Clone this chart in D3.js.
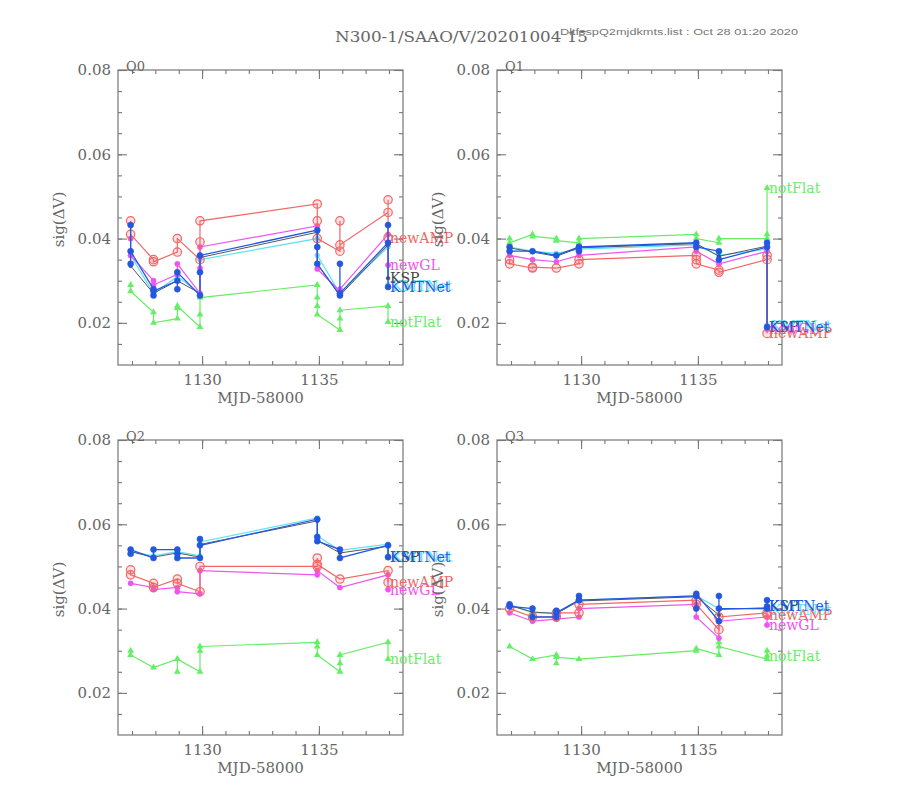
<!DOCTYPE html>
<html>
<head>
<meta charset="utf-8">
<script src="https://cdn.jsdelivr.net/npm/d3@7"></script>
<style>
  html, body { margin: 0; padding: 0; background: #fff; }
  svg { display: block; }
</style>
</head>
<body>
<svg id="chart" width="906" height="796"></svg>
<script>
// ---------------- DATA ----------------
const nights = [1126.94, 1127.92, 1128.94, 1129.91, 1134.93, 1135.90, 1137.96];
const panelNames = ["Q0", "Q1", "Q2", "Q3"];
const seriesNames = ["KMTNet", "KSP", "notFlat", "newGL", "newAMP", "KMTNet"]; // cyan, black, green, magenta, red, blue
const xTickLabels = [1130, 1135];
const yTickLabels = [0.02, 0.04, 0.06, 0.08];
const titleText = "N300-1/SAAO/V/20201004 15";
const fileText = "DltfsspQ2mjdkmts.list : Oct 28 01:20 2020";

// values per night (each inner list = exposures of that night, in time order)
// Q0
const q0Cyan    = [[0.040, 0.036], [0.027], [0.031], [0.027, 0.035], [0.040, 0.036], [0.027], [0.038, 0.0290]];
const q0KSP     = [[0.037, 0.0335], [0.027], [0.030], [0.027, 0.0355], [0.0415, 0.034], [0.0265], [0.0385, 0.0306]];
const q0NotFlat = [[0.029, 0.0275], [0.0225, 0.020], [0.021, 0.0235, 0.024], [0.019, 0.022, 0.026], [0.029, 0.026, 0.024, 0.022], [0.0183, 0.021, 0.023], [0.024, 0.0202]];
const q0NewGL   = [[0.040, 0.036], [0.030, 0.029], [0.0315, 0.034], [0.027, 0.033, 0.038], [0.043, 0.038, 0.0328], [0.0275, 0.028], [0.041, 0.0337]];
const q0NewAMP  = [[0.0442, 0.041], [0.035, 0.0345], [0.0368, 0.040], [0.035, 0.0392, 0.0442], [0.0482, 0.0442, 0.040], [0.037, 0.0442, 0.0385], [0.0462, 0.0492, 0.0402]];
const q0KMTNet  = [[0.0432, 0.034, 0.037], [0.028, 0.0265, 0.0275], [0.030, 0.028, 0.032], [0.0265, 0.032, 0.036], [0.042, 0.038, 0.034], [0.0265, 0.034, 0.027], [0.039, 0.0432, 0.0285]];
// Q1
const q1Cyan    = [[0.038], [0.037], [0.0365], [0.0375], [0.0385], [0.036], [0.0375, 0.0195]];
const q1KSP     = [[0.0378], [0.0368], [0.0358], [0.0378], [0.0388], [0.0358], [0.0382, 0.019]];
const q1NotFlat = [[0.040, 0.039], [0.041, 0.0405], [0.040, 0.0395], [0.039, 0.040], [0.041, 0.040], [0.039, 0.040], [0.040, 0.041, 0.052]];
const q1NewGL   = [[0.037, 0.036], [0.035], [0.0345], [0.036], [0.038, 0.037], [0.034], [0.037, 0.0185]];
const q1NewAMP  = [[0.035, 0.034], [0.033, 0.0332], [0.033], [0.034, 0.035], [0.036, 0.035, 0.034], [0.0325, 0.032], [0.035, 0.036, 0.0175]];
const q1KMTNet  = [[0.038, 0.037], [0.037], [0.036], [0.038, 0.037, 0.038], [0.039, 0.038], [0.037, 0.035], [0.038, 0.039, 0.019]];
// Q2
const q2Cyan    = [[0.0535], [0.0525], [0.0535], [0.0525, 0.0558], [0.0615, 0.0572], [0.0538], [0.0553, 0.0525]];
const q2KSP     = [[0.0535], [0.0522], [0.0532], [0.0522, 0.0552], [0.0608, 0.0562], [0.0532], [0.0548, 0.0522]];
const q2NotFlat = [[0.030, 0.029], [0.026], [0.028, 0.025, 0.028], [0.025, 0.030, 0.031], [0.032, 0.031, 0.029], [0.025, 0.027, 0.029], [0.032, 0.028]];
const q2NewGL   = [[0.046], [0.045, 0.0445], [0.045, 0.044], [0.0435, 0.049], [0.048, 0.049], [0.045], [0.048, 0.0445]];
const q2NewAMP  = [[0.0492, 0.048], [0.046, 0.045], [0.047, 0.046], [0.044, 0.050], [0.050, 0.052, 0.0505], [0.047], [0.049, 0.0462]];
const q2KMTNet  = [[0.053, 0.054], [0.052, 0.054], [0.054, 0.053, 0.052], [0.052, 0.0565, 0.055], [0.0612, 0.057, 0.056], [0.054, 0.052], [0.055, 0.0522]];
// Q3
const q3Cyan    = [[0.041], [0.039], [0.039], [0.042], [0.043], [0.040], [0.040, 0.0398]];
const q3KSP     = [[0.0407], [0.0392], [0.0388], [0.0418], [0.0428], [0.0385, 0.0398], [0.0402, 0.0405]];
const q3NotFlat = [[0.031], [0.028], [0.029, 0.027, 0.0285], [0.028], [0.030, 0.0305], [0.029, 0.032, 0.031], [0.028, 0.030, 0.0288]];
const q3NewGL   = [[0.039], [0.037], [0.0375], [0.038, 0.040], [0.041, 0.038], [0.033, 0.037], [0.038, 0.0361]];
const q3NewAMP  = [[0.040], [0.038], [0.038, 0.039], [0.039, 0.041], [0.042, 0.041], [0.035, 0.038], [0.039, 0.0385]];
const q3KMTNet  = [[0.041, 0.0405], [0.040, 0.038], [0.038, 0.0395, 0.039], [0.042, 0.043, 0.042], [0.043, 0.040, 0.0435], [0.037, 0.043, 0.040], [0.040, 0.042, 0.0405]];

const panelData = [
  [q0Cyan, q0KSP, q0NotFlat, q0NewGL, q0NewAMP, q0KMTNet],
  [q1Cyan, q1KSP, q1NotFlat, q1NewGL, q1NewAMP, q1KMTNet],
  [q2Cyan, q2KSP, q2NotFlat, q2NewGL, q2NewAMP, q2KMTNet],
  [q3Cyan, q3KSP, q3NotFlat, q3NewGL, q3NewAMP, q3KMTNet]
];

// ---------------- STYLE / LAYOUT ----------------
const seriesStyle = [
  { color: "#5fe3f2", marker: "dot", r: 2.4, width: 1.2, labelDx: 4, labelDy: 1 },
  { color: "#444444", marker: "dot", r: 1.8, width: 0.9, labelDx: 2, labelDy: 0 },
  { color: "#66ee66", marker: "tri", r: 2.6, width: 1.2, labelDx: 2, labelDy: 0 },
  { color: "#ee55ee", marker: "dot", r: 2.6, width: 1.2, labelDx: 2, labelDy: 0 },
  { color: "#f26666", marker: "ring", r: 4.2, width: 1.2, labelDx: 2, labelDy: 0 },
  { color: "#2457e0", marker: "dot", r: 3.0, width: 1.3, labelDx: 2, labelDy: 0 }
];
const panelPos = [[118, 70], [497, 70], [118, 440], [497, 440]];
const PW = 285, PH = 295;
const axisColor = "#777";
const textColor = "#666";
const serif = "'DejaVu Serif', 'Liberation Serif', serif";

const svg = d3.select("#chart");

const x = d3.scaleLinear().domain([1126.4, 1138.6]).range([0, PW]);
const y = d3.scaleLinear().domain([0.01, 0.08]).range([PH, 0]);

const xMinor = d3.range(1127, 1139, 1);
const yMinor = d3.range(0.015, 0.0801, 0.005).map(v => +v.toFixed(3));

// Title
svg.append("text")
  .attr("x", 335).attr("y", 42)
  .attr("font-family", serif).attr("font-size", 14)
  .attr("fill", textColor)
  .attr("textLength", 253).attr("lengthAdjust", "spacingAndGlyphs")
  .text(titleText);
svg.append("text")
  .attr("x", 560).attr("y", 35)
  .attr("font-family", "'Liberation Sans', Arial, sans-serif").attr("font-size", 8.5)
  .attr("fill", "#777")
  .attr("textLength", 238).attr("lengthAdjust", "spacingAndGlyphs")
  .text(fileText);

panelData.forEach((series, pi) => {
  const [px, py] = panelPos[pi];
  const g = svg.append("g").attr("transform", `translate(${px},${py})`);

  // frame
  g.append("rect").attr("x", 0).attr("y", 0).attr("width", PW).attr("height", PH)
    .attr("fill", "none").attr("stroke", axisColor).attr("stroke-width", 1.2);

  const styleAxis = sel => {
    sel.select(".domain").remove();
    sel.selectAll(".tick line").attr("stroke", axisColor).attr("stroke-width", 1.1);
    sel.selectAll(".tick text").attr("fill", textColor).attr("font-family", serif).attr("font-size", 15);
  };

  // bottom axis (major with labels, minor)
  g.append("g").attr("transform", `translate(0,${PH})`)
    .call(d3.axisBottom(x).tickValues(xMinor).tickSize(-4).tickFormat(""))
    .call(styleAxis);
  g.append("g").attr("transform", `translate(0,${PH})`)
    .call(d3.axisBottom(x).tickValues(xTickLabels).tickSize(-9).tickPadding(9).tickFormat(d3.format("d")))
    .call(styleAxis);
  // top axis
  g.append("g")
    .call(d3.axisTop(x).tickValues(xMinor).tickSize(-4).tickFormat(""))
    .call(styleAxis);
  g.append("g")
    .call(d3.axisTop(x).tickValues(xTickLabels).tickSize(-9).tickFormat(""))
    .call(styleAxis);
  // left axis
  g.append("g")
    .call(d3.axisLeft(y).tickValues(yMinor).tickSize(-4).tickFormat(""))
    .call(styleAxis);
  g.append("g")
    .call(d3.axisLeft(y).tickValues(yTickLabels).tickSize(-9).tickPadding(7).tickFormat(d3.format(".2f")))
    .call(styleAxis);
  // right axis
  g.append("g").attr("transform", `translate(${PW},0)`)
    .call(d3.axisRight(y).tickValues(yMinor).tickSize(-4).tickFormat(""))
    .call(styleAxis);
  g.append("g").attr("transform", `translate(${PW},0)`)
    .call(d3.axisRight(y).tickValues(yTickLabels).tickSize(-9).tickFormat(""))
    .call(styleAxis);

  // axis titles
  g.append("text")
    .attr("x", PW / 2).attr("y", PH + 38)
    .attr("text-anchor", "middle")
    .attr("font-family", serif).attr("font-size", 15).attr("fill", textColor)
    .text("MJD-58000");
  g.append("text")
    .attr("transform", `translate(${-54},${PH / 2 + 2}) rotate(-90)`)
    .attr("text-anchor", "middle")
    .attr("font-family", serif).attr("font-size", 15).attr("fill", textColor)
    .text("sig(ΔV)");
  g.append("text")
    .attr("x", 8).attr("y", 1)
    .attr("font-family", serif).attr("font-size", 13).attr("fill", textColor)
    .text(panelNames[pi]);

  // series
  series.forEach((nightVals, si) => {
    const st = seriesStyle[si];
    const pts = [];
    nightVals.forEach((vals, ni) => vals.forEach(v => pts.push([nights[ni], v])));

    g.append("path")
      .datum(pts)
      .attr("fill", "none")
      .attr("stroke", st.color)
      .attr("stroke-width", st.width)
      .attr("d", d3.line().x(d => x(d[0])).y(d => y(d[1])));

    const mk = g.append("g");
    if (st.marker === "tri") {
      const sym = d3.symbol().type(d3.symbolTriangle).size(st.r * st.r * 3);
      mk.selectAll("path").data(pts).join("path")
        .attr("transform", d => `translate(${x(d[0])},${y(d[1])})`)
        .attr("d", sym)
        .attr("fill", st.color);
    } else {
      mk.selectAll("circle").data(pts).join("circle")
        .attr("cx", d => x(d[0])).attr("cy", d => y(d[1]))
        .attr("r", st.r)
        .attr("fill", st.marker === "ring" ? "rgba(242,102,102,0.18)" : st.color)
        .attr("stroke", st.color)
        .attr("stroke-width", st.marker === "ring" ? 1.2 : 0.6);
    }

    const last = pts[pts.length - 1];
    g.append("text")
      .attr("x", x(last[0]) + st.labelDx)
      .attr("y", y(last[1]) + st.labelDy)
      .attr("dy", "0.35em")
      .attr("font-family", serif).attr("font-size", 14)
      .attr("fill", st.color)
      .text(seriesNames[si]);
  });
});
</script>
</body>
</html>
